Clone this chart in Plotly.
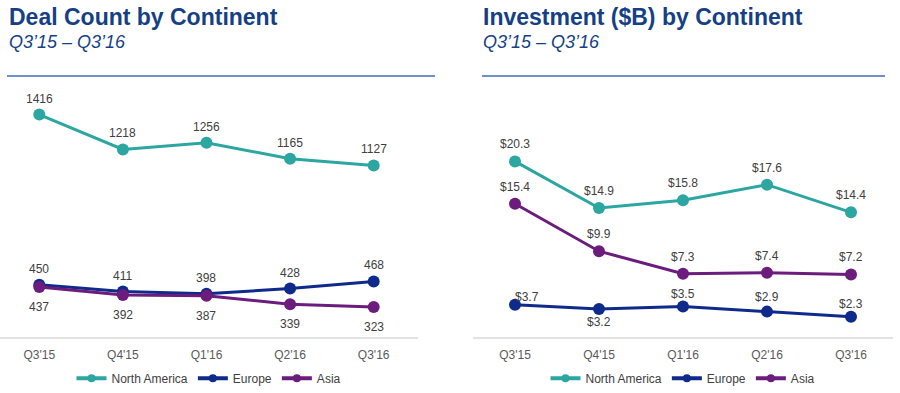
import plotly.graph_objects as go

quarters = ["Q3'15", "Q4'15", "Q1'16", "Q2'16", "Q3'16"]

deal_na = [1416, 1218, 1256, 1165, 1127]
deal_eu = [450, 411, 398, 428, 468]
deal_asia = [437, 392, 387, 339, 323]

inv_na = [20.3, 14.9, 15.8, 17.6, 14.4]
inv_eu = [3.7, 3.2, 3.5, 2.9, 2.3]
inv_asia = [15.4, 9.9, 7.3, 7.4, 7.2]

series_names = ["North America", "Europe", "Asia"]
colors = ["#2ba6a1", "#0e2a8a", "#6b1c7c"]
TITLE_C = "#163f86"
LABEL_C = "#404040"
FONT = "Arial, Liberation Sans, sans-serif"

fig = go.Figure()


def add_series(xa, ya, vals, name, color, legend, fmt, shifts):
    fig.add_trace(go.Scatter(
        x=quarters, y=vals, mode="lines+markers", name=name, showlegend=False,
        line=dict(color=color, width=3), marker=dict(color=color, size=12),
        xaxis=xa, yaxis=ya, hoverinfo="skip"))
    # legend entry with smaller marker, like the original chart's legend
    fig.add_trace(go.Scatter(
        x=[None], y=[None], mode="lines+markers", name=name, showlegend=True,
        line=dict(color=color, width=4), marker=dict(color=color, size=8),
        xaxis=xa, yaxis=ya, legend=legend, hoverinfo="skip"))
    for q, v, (dx, dy) in zip(quarters, vals, shifts):
        fig.add_annotation(x=q, y=v, xref=xa, yref=ya, text=fmt(v), showarrow=False,
                           xanchor="center", yanchor="middle", xshift=dx, yshift=dy,
                           font=dict(family=FONT, size=12, color=LABEL_C))


int_fmt = lambda v: f"{v}"
usd_fmt = lambda v: f"${v:.1f}"

up = [(0, 16)] * 5
down = [(0, -20)] * 5
up_r = [(0, 17)] * 5
eu_r = [(12, 8), (0, -13), (0, 12), (0, 15), (0, 13)]

add_series("x", "y", deal_na, series_names[0], colors[0], "legend", int_fmt, up)
add_series("x", "y", deal_eu, series_names[1], colors[1], "legend", int_fmt, up)
add_series("x", "y", deal_asia, series_names[2], colors[2], "legend", int_fmt, down)

add_series("x2", "y2", inv_na, series_names[0], colors[0], "legend2", usd_fmt, up_r)
add_series("x2", "y2", inv_eu, series_names[1], colors[1], "legend2", usd_fmt, eu_r)
add_series("x2", "y2", inv_asia, series_names[2], colors[2], "legend2", usd_fmt, up_r)

ydom = [(393 - 341) / 393, (393 - 90) / 393]
axis_common = dict(
    showgrid=False, zeroline=False, showline=True, linecolor="#e2e2e2", linewidth=2,
    ticks="outside", ticklen=6, tickcolor="rgba(0,0,0,0)",
    tickfont=dict(family=FONT, size=12, color="#595959"), fixedrange=True)

legend_common = dict(orientation="h", y=10 / 393, yanchor="middle", xanchor="center",
                     font=dict(family=FONT, size=12, color="#404040"),
                     bgcolor="rgba(0,0,0,0)", itemwidth=30, tracegroupgap=0)

fig.update_layout(
    width=900, height=393,
    margin=dict(l=0, r=0, t=0, b=0),
    paper_bgcolor="white", plot_bgcolor="white",
    font=dict(family=FONT, color=LABEL_C),
    xaxis=dict(domain=[0, 418 / 900], range=[-0.47, 4.53], anchor="y", **axis_common),
    yaxis=dict(domain=ydom, range=[154.8, 1561.7], visible=False, anchor="x"),
    xaxis2=dict(domain=[473 / 900, 893 / 900], range=[-0.5, 4.5], anchor="y2", **axis_common),
    yaxis2=dict(domain=ydom, range=[0, 28.7], visible=False, anchor="x2"),
    legend=dict(x=209 / 900, **legend_common),
    legend2=dict(x=683 / 900, **legend_common),
    showlegend=True,
)

titles = [(7, "Deal Count by Continent"), (481, "Investment ($B) by Continent")]
for x0, t in titles:
    fig.add_annotation(x=x0 / 900, y=1 - 17 / 393, xref="paper", yref="paper",
                       xanchor="left", yanchor="middle", showarrow=False,
                       text=f"<b>{t}</b>", font=dict(family=FONT, size=23, color=TITLE_C))
    fig.add_annotation(x=x0 / 900, y=1 - 43 / 393, xref="paper", yref="paper",
                       xanchor="left", yanchor="middle", showarrow=False,
                       text="<i>Q3\u201915 \u2013 Q3\u201916</i>",
                       font=dict(family=FONT, size=18, color=TITLE_C))

for x0, x1 in [(7, 435), (482, 885)]:
    fig.add_shape(type="line", xref="paper", yref="paper",
                  x0=x0 / 900, x1=x1 / 900, y0=1 - 77 / 393, y1=1 - 77 / 393,
                  line=dict(color="#3f6cb6", width=1.5))

post = ("document.documentElement.style.margin='0';document.documentElement.style.overflow='hidden';"
        "document.body.style.margin='0';document.body.style.overflow='hidden';")
fig.write_html("out.html", config={"displayModeBar": False}, post_script=post)
